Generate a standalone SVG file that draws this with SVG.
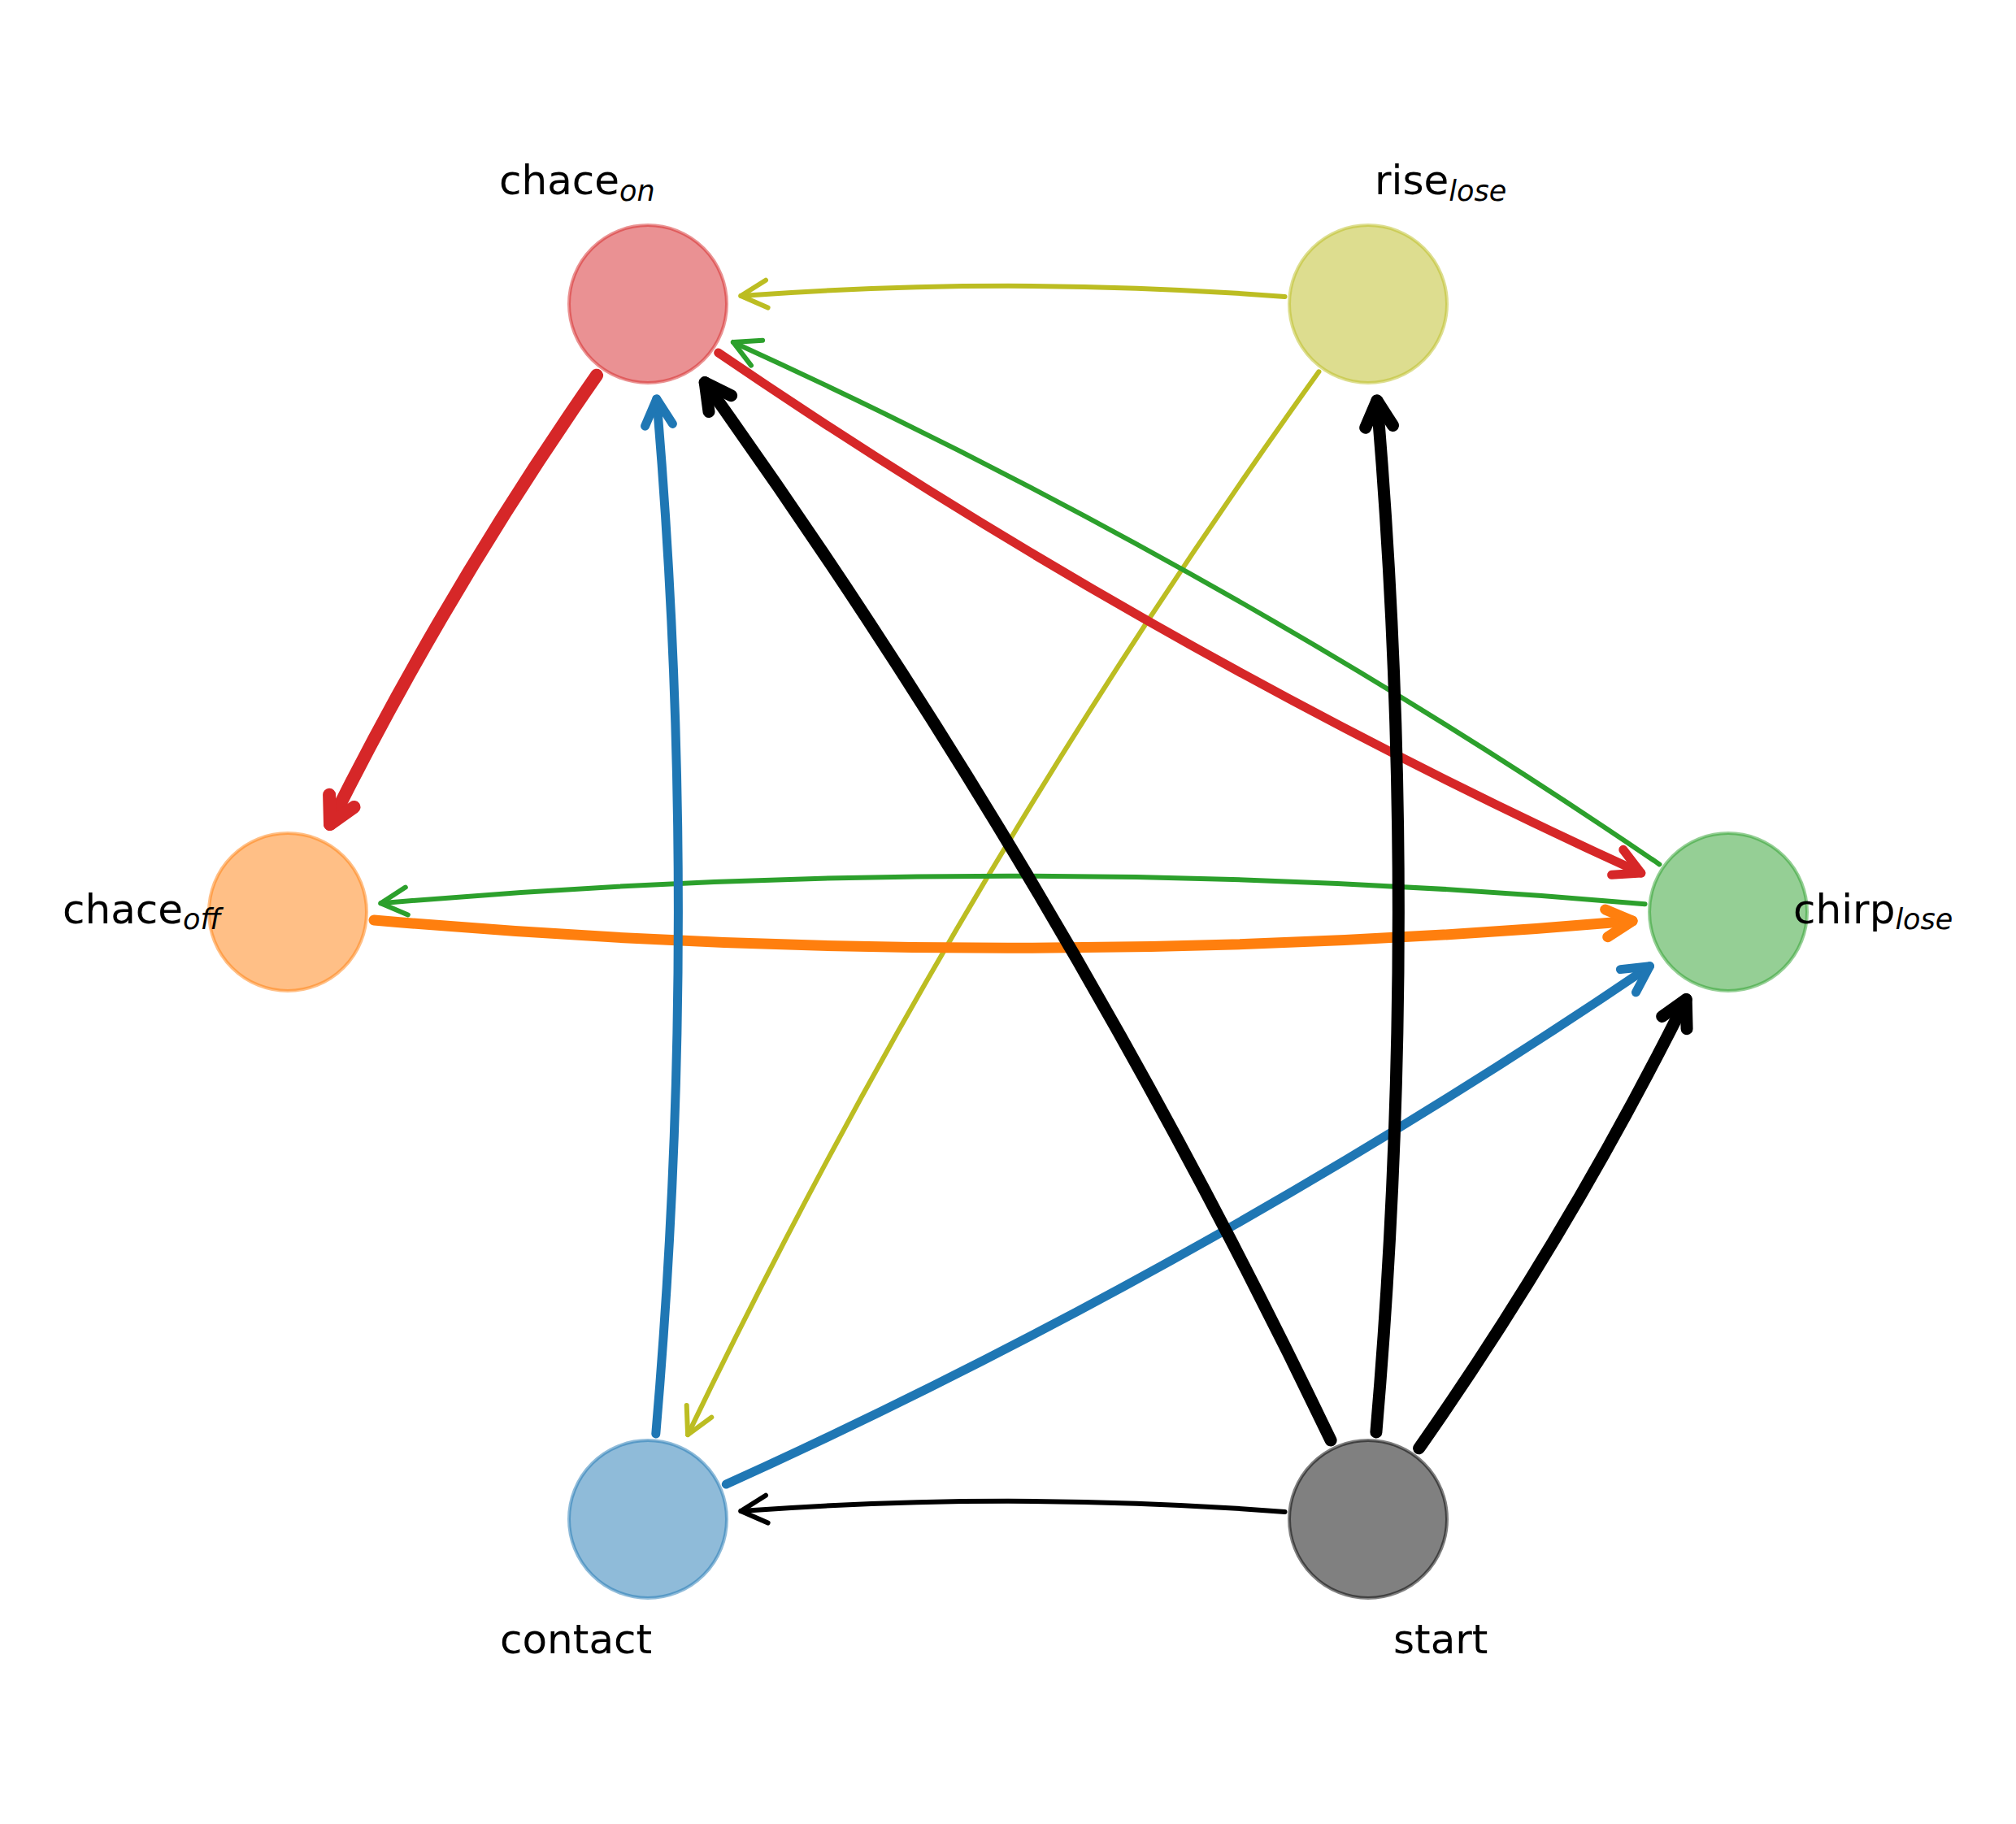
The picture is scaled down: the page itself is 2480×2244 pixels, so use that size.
<svg xmlns="http://www.w3.org/2000/svg" width="2480" height="2244" viewBox="0 0 2480 2244">
<style>
.e{fill:none;stroke-linecap:round;stroke-linejoin:round}
.olive{stroke:#bcbd22;stroke-width:6}
.green{stroke:#2ca02c;stroke-width:6}
.orange{stroke:#ff7f0e;stroke-width:13}
.redA{stroke:#d62728;stroke-width:16}
.redB{stroke:#d62728;stroke-width:11}
.blue{stroke:#1f77b4;stroke-width:11}
.blk1{stroke:#000000;stroke-width:6}
.blk2{stroke:#000000;stroke-width:15}
.n{stroke-width:4;stroke-opacity:0.5}
.lbl{font-family:"DejaVu Sans","Liberation Sans",sans-serif;font-size:50px;fill:#000}
.sub{font-style:italic;font-size:35px}
</style>
<rect width="2480" height="2244" fill="#ffffff"/>
<g id="connectors">
  <g id="e-rise-chaceon" class="e olive"><path d="M1580.5,364.9 Q1246.0,339.2 911.4,364.0"/><path d="M944.6,378.6 L911.4,364.0 L942.0,344.7"/></g>
  <g id="e-rise-contact" class="e olive"><path d="M1622.4,457.3 Q1177.0,1077.3 846.1,1765.1"/><path d="M875.3,1743.6 L846.1,1765.1 L844.7,1728.9"/></g>
  <g id="e-chirp-chaceon" class="e green"><path d="M2041.4,1063.4 Q1499.2,693.3 901.9,420.9"/><path d="M924.0,449.7 L901.9,420.9 L938.1,418.7"/></g>
  <g id="e-chirp-chaceoff" class="e green"><path d="M2023.5,1112.3 Q1246.0,1043.6 468.4,1111.3"/><path d="M501.8,1125.4 L468.4,1111.3 L498.8,1091.6"/></g>
  <g id="e-chaceoff-chirp" class="e orange"><path d="M460.0,1132.0 Q1234.0,1200.1 2008.1,1133.0"/><path d="M1977.7,1152.7 L2008.1,1133.0 L1974.7,1118.9"/></g>
  <g id="e-chaceon-chaceoff" class="e redA"><path d="M734.1,461.7 Q549.6,725.7 406.0,1014.0"/><path d="M435.5,993.0 L406.0,1014.0 L405.1,977.8"/></g>
  <g id="e-chaceon-chirp" class="e redB"><path d="M883.7,434.0 Q1424.0,802.6 2018.8,1074.1"/><path d="M1982.6,1076.3 L2018.8,1074.1 L1996.8,1045.3"/></g>
  <g id="e-contact-chaceon" class="e blue"><path d="M806.8,1764.0 Q861.5,1127.5 807.8,490.9"/><path d="M827.4,521.4 L807.8,490.9 L793.6,524.2"/></g>
  <g id="e-contact-chirp" class="e blue"><path d="M893.3,1826.1 Q1488.6,1555.9 2029.4,1188.7"/><path d="M2012.5,1220.8 L2029.4,1188.7 L1993.4,1192.6"/></g>
  <g id="e-start-contact" class="e blk1"><path d="M1580.5,1859.9 Q1246.0,1834.2 911.4,1859.0"/><path d="M944.6,1873.6 L911.4,1859.0 L942.0,1839.7"/></g>
  <g id="e-start-chaceon" class="e blk2"><path d="M1637.1,1771.9 Q1308.7,1087.7 867.2,470.6"/><path d="M899.6,486.7 L867.2,470.6 L872.0,506.5"/></g>
  <g id="e-start-rise" class="e blk2"><path d="M1692.9,1762.0 Q1747.3,1127.5 1693.9,492.9"/><path d="M1713.5,523.4 L1693.9,492.9 L1679.7,526.2"/></g>
  <g id="e-start-chirp" class="e blk2"><path d="M1745.6,1781.8 Q1930.4,1517.8 2074.2,1229.5"/><path d="M2075.1,1265.7 L2074.2,1229.5 L2044.7,1250.5"/></g>
</g>
<g id="node-chace_on">
  <circle class="n" cx="797" cy="374" r="97" fill="#ea9193" stroke="#d62728"/>
  <text class="lbl" x="614" y="239">chace<tspan class="sub" dy="8">on</tspan></text>
</g>
<g id="node-rise_lose">
  <circle class="n" cx="1683" cy="374" r="97" fill="#dddd8f" stroke="#bcbd22"/>
  <text class="lbl" x="1691" y="239">rise<tspan class="sub" dy="8">lose</tspan></text>
</g>
<g id="node-chace_off">
  <circle class="n" cx="354" cy="1122" r="97" fill="#ffbf86" stroke="#ff7f0e"/>
  <text class="lbl" x="77" y="1136">chace<tspan class="sub" dy="7">off</tspan></text>
</g>
<g id="node-chirp_lose">
  <circle class="n" cx="2126" cy="1122" r="97" fill="#95cf95" stroke="#2ca02c"/>
  <text class="lbl" x="2206" y="1136">chirp<tspan class="sub" dy="7">lose</tspan></text>
</g>
<g id="node-contact">
  <circle class="n" cx="797" cy="1869" r="97" fill="#8fbbd9" stroke="#1f77b4"/>
  <text class="lbl" x="615" y="2034">contact</text>
</g>
<g id="node-start">
  <circle class="n" cx="1683" cy="1869" r="97" fill="#808080" stroke="#000000"/>
  <text class="lbl" x="1714" y="2034">start</text>
</g>
</svg>
